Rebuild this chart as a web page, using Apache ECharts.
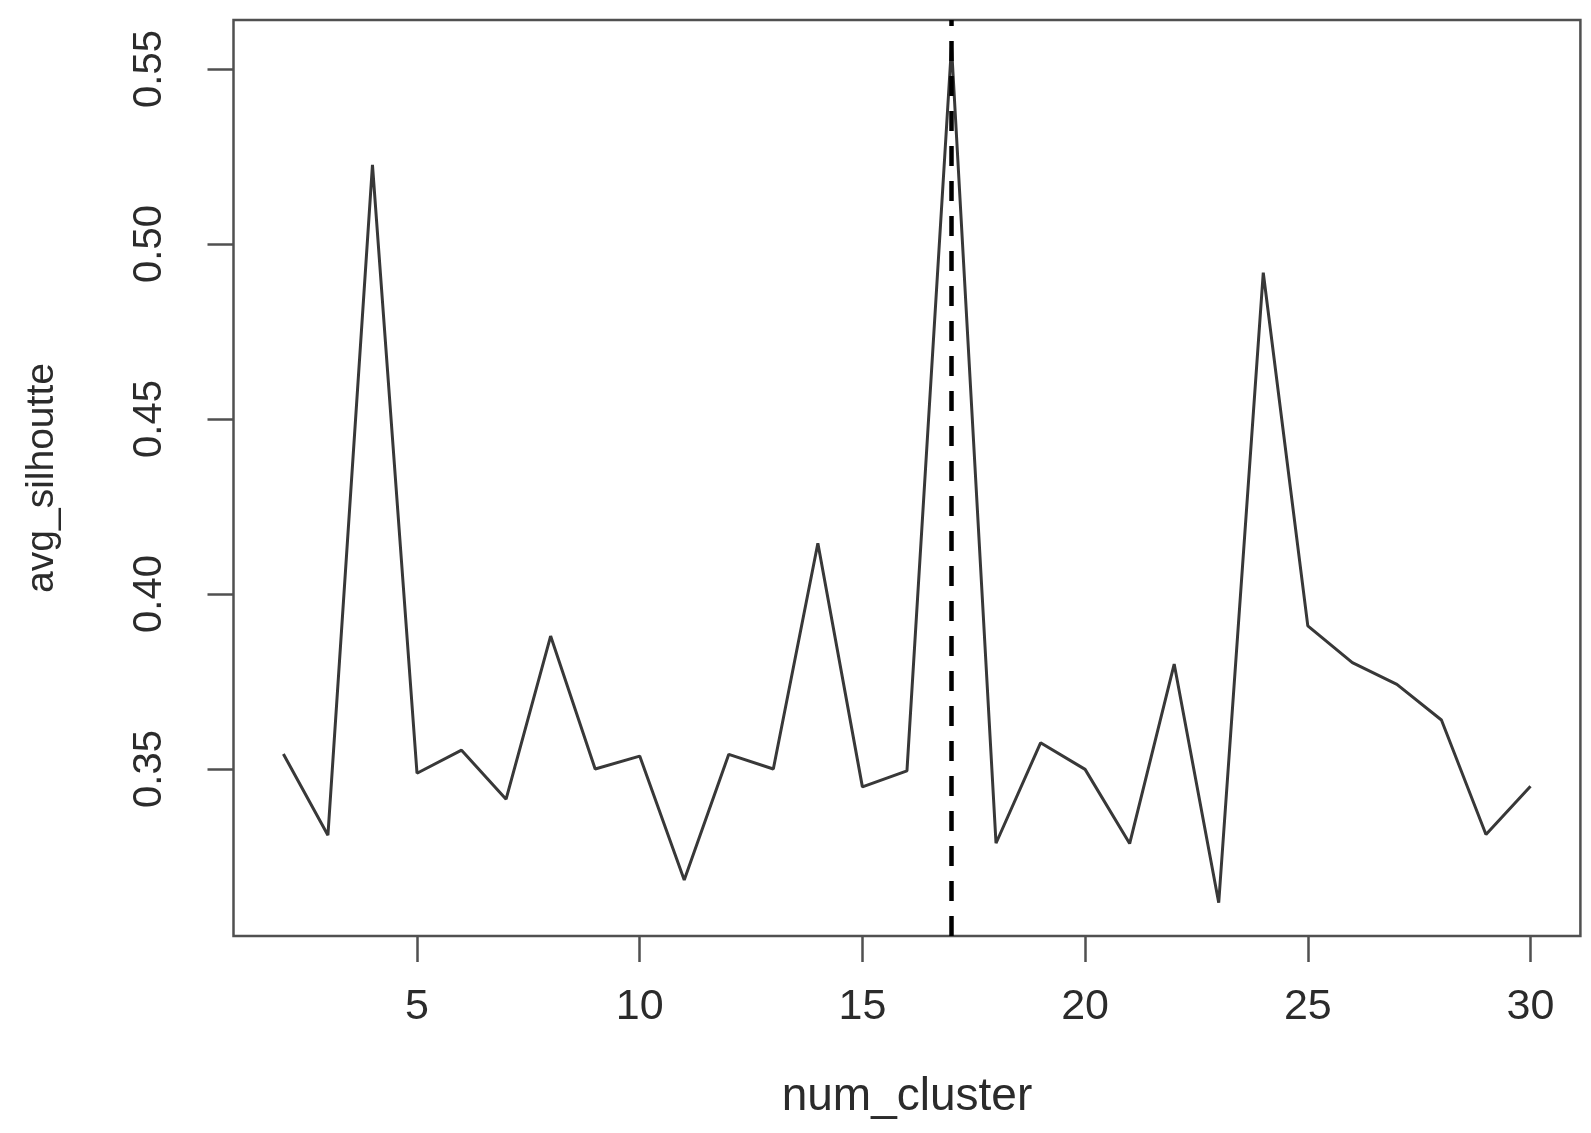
<!DOCTYPE html>
<html>
<head>
<meta charset="utf-8">
<script src="https://cdn.jsdelivr.net/npm/echarts@6/dist/echarts.min.js"></script>
<style>
html,body{margin:0;padding:0;background:#fff;}
#chart{width:1591px;height:1133px;}
</style>
</head>
<body>
<div id="chart"></div>
<script>
// ---- data ----
const numCluster = [2,3,4,5,6,7,8,9,10,11,12,13,14,15,16,17,18,19,20,21,22,23,24,25,26,27,28,29,30];
const avgSilhouette = [0.3543,0.3311,0.5226,0.3488,0.3554,0.3414,0.3880,0.3500,0.3537,0.3183,
                       0.3542,0.3500,0.4145,0.3449,0.3495,0.5565,0.3288,0.3575,0.3499,0.3287,
                       0.3800,0.3118,0.4918,0.3909,0.3804,0.3742,0.3640,0.3313,0.3451];
const xTicks = [5,10,15,20,25,30];
const yTicks = [0.35,0.40,0.45,0.50,0.55];
const bestK = [17];
const xTitle = 'num_cluster';
const yTitle = 'avg_silhoutte';

const seriesData = numCluster.map((k,i)=>[k, avgSilhouette[i]]);
const textColor = '#2b2b2b';
const font = 'Liberation Sans, Arial, sans-serif';

const chart = echarts.init(document.getElementById('chart'), null, {renderer:'canvas'});
chart.setOption({
  animation:false,
  backgroundColor:'#ffffff',
  grid:{left:233.5, right:10.6, top:20, bottom:197, show:true, borderColor:'#505050', borderWidth:2.5, backgroundColor:'transparent'},
  xAxis:{
    type:'value', min:0.88, max:31.12,
    axisLine:{show:false},
    splitLine:{show:false},
    axisTick:{show:true, customValues:xTicks, length:26, inside:false, lineStyle:{color:'#505050', width:2.5}},
    axisLabel:{show:true, customValues:xTicks, margin:50, fontSize:43, color:textColor, fontFamily:font},
    name:xTitle, nameLocation:'middle', nameGap:138,
    nameTextStyle:{fontSize:46, color:textColor, fontFamily:font}
  },
  yAxis:{
    type:'value', min:0.3023, max:0.564,
    axisLine:{show:false},
    splitLine:{show:false},
    axisTick:{show:true, customValues:yTicks, length:26, inside:false, lineStyle:{color:'#505050', width:2.5}},
    axisLabel:{show:true, customValues:yTicks, rotate:90, margin:64, fontSize:40, color:textColor,
      fontFamily:font,
      formatter:(v)=>Number(v).toFixed(2)},
    name:yTitle, nameLocation:'middle', nameGap:172, nameRotate:90,
    nameTextStyle:{fontSize:39, color:textColor, fontFamily:font}
  },
  series:[{
    type:'line',
    data:seriesData,
    showSymbol:false,
    symbol:'none',
    lineStyle:{color:'#383838', width:3},
    silent:true,
    markLine:{
      silent:true,
      symbol:['none','none'],
      label:{show:false},
      lineStyle:{color:'#000000', width:4.5, type:[20,15], opacity:1},
      emphasis:{disabled:true},
      data:bestK.map(k=>({xAxis:k}))
    }
  }]
});
</script>
</body>
</html>
